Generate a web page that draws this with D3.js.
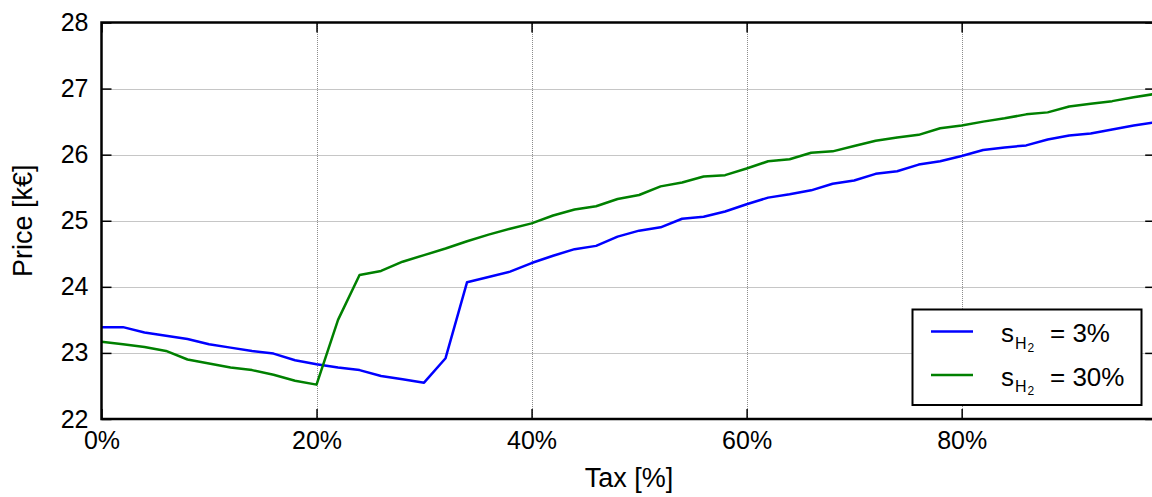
<!DOCTYPE html>
<html>
<head>
<meta charset="utf-8">
<script src="https://cdn.jsdelivr.net/npm/d3@7"></script>
<style>
  body { margin: 0; background: #fff; }
  svg { display: block; font-family: "Liberation Sans", Arial, sans-serif; }
</style>
</head>
<body>
<svg id="chart" width="1152" height="497"></svg>
<script>
// ---- data ----
const taxLevels = [0, 0.02, 0.04, 0.06, 0.08, 0.10, 0.12, 0.14, 0.16, 0.18,
  0.20, 0.22, 0.24, 0.26, 0.28, 0.30, 0.32, 0.34, 0.36, 0.38,
  0.40, 0.42, 0.44, 0.46, 0.48, 0.50, 0.52, 0.54, 0.56, 0.58,
  0.60, 0.62, 0.64, 0.66, 0.68, 0.70, 0.72, 0.74, 0.76, 0.78,
  0.80, 0.82, 0.84, 0.86, 0.88, 0.90, 0.92, 0.94, 0.96, 0.98];

const priceH2_3 = [23.39, 23.39, 23.31, 23.26, 23.21, 23.13, 23.08, 23.03, 22.99, 22.89,
  22.83, 22.78, 22.74, 22.65, 22.60, 22.55, 22.92, 24.07, 24.15, 24.23,
  24.36, 24.47, 24.57, 24.62, 24.76, 24.85, 24.90, 25.03, 25.06, 25.14,
  25.25, 25.35, 25.40, 25.46, 25.56, 25.61, 25.71, 25.75, 25.85, 25.90,
  25.98, 26.07, 26.11, 26.14, 26.23, 26.29, 26.32, 26.38, 26.44, 26.49];

const priceH2_30 = [23.17, 23.13, 23.09, 23.03, 22.90, 22.84, 22.78, 22.74, 22.67, 22.58,
  22.52, 23.50, 24.18, 24.24, 24.38, 24.48, 24.58, 24.69, 24.79, 24.88,
  24.96, 25.08, 25.17, 25.22, 25.33, 25.39, 25.52, 25.58, 25.67, 25.69,
  25.79, 25.90, 25.93, 26.03, 26.05, 26.13, 26.21, 26.26, 26.30, 26.40,
  26.44, 26.50, 26.55, 26.61, 26.64, 26.73, 26.77, 26.81, 26.87, 26.92];

const xTicks = [0, 0.2, 0.4, 0.6, 0.8];
const yTicks = [22, 23, 24, 25, 26, 27, 28];
const seriesNames = ["3%", "30%"];
const seriesColors = ["#0000ff", "#008000"];
const xLabel = "Tax [%]";
const yLabel = "Price [k€]";

// ---- layout ----
const svg = d3.select("#chart");
const margin = { left: 101.5, top: 22.5, right: 1155.2, bottom: 419 };

const x = d3.scaleLinear().domain([0, 0.98]).range([margin.left, margin.right]);
const y = d3.scaleLinear().domain([22, 28]).range([margin.bottom, margin.top]);
const px = v => Math.round(v) + 0.5;

// grid
const grid = svg.append("g").attr("stroke", "#8c8c8c").attr("stroke-width", 1)
  .attr("stroke-dasharray", "1,1");
grid.selectAll("line.v").data(xTicks.filter(d => d > 0)).join("line")
  .attr("class", "v")
  .attr("x1", d => px(x(d))).attr("x2", d => px(x(d)))
  .attr("y1", y(22)).attr("y2", y(28));
grid.selectAll("line.h").data(yTicks.filter(d => d > 22 && d < 28)).join("line")
  .attr("class", "h")
  .attr("x1", x(0)).attr("x2", x(0.98))
  .attr("y1", d => px(y(d))).attr("y2", d => px(y(d)));

// lines
const series = [priceH2_3, priceH2_30];
const line = d3.line().x((d, i) => x(taxLevels[i])).y(d => y(d));
svg.append("g").selectAll("path").data(series).join("path")
  .attr("d", d => line(d))
  .attr("fill", "none")
  .attr("stroke", (d, i) => seriesColors[i])
  .attr("stroke-width", 2.5)
  .attr("stroke-linejoin", "round");

// axes
const fmt = d3.format(".0%");
const tickFont = 25;
const xAxis = svg.append("g").attr("transform", `translate(0,${y(22)})`)
  .call(d3.axisBottom(x).tickValues(xTicks).tickFormat(fmt).tickSizeInner(-10).tickSizeOuter(0).tickPadding(12));
const xAxisTop = svg.append("g").attr("transform", `translate(0,${y(28)})`)
  .call(d3.axisTop(x).tickValues(xTicks).tickFormat("").tickSizeInner(-10).tickSizeOuter(0));
const yAxis = svg.append("g").attr("transform", `translate(${x(0)},0)`)
  .call(d3.axisLeft(y).tickValues(yTicks).tickFormat(d3.format("d")).tickSizeInner(-10).tickSizeOuter(0).tickPadding(13));
const yAxisRight = svg.append("g").attr("transform", `translate(${x(0.98)},0)`)
  .call(d3.axisRight(y).tickValues(yTicks).tickFormat("").tickSizeInner(-10).tickSizeOuter(0));

[xAxis, xAxisTop, yAxis, yAxisRight].forEach(g => {
  g.select(".domain").remove();
  g.selectAll(".tick line").attr("stroke", "#000").attr("stroke-width", 1.5);
  g.selectAll("text").attr("font-size", tickFont).attr("fill", "#000")
    .attr("font-family", "Liberation Sans, Arial, sans-serif");
});

// frame
svg.append("rect")
  .attr("x", x(0)).attr("y", y(28))
  .attr("width", x(0.98) - x(0)).attr("height", y(22) - y(28))
  .attr("fill", "none").attr("stroke", "#000").attr("stroke-width", 2.5);

// axis labels
svg.append("text").attr("x", 629).attr("y", 487)
  .attr("text-anchor", "middle").attr("font-size", 27).text(xLabel);
svg.append("text")
  .attr("transform", `translate(32,${(y(22) + y(28)) / 2}) rotate(-90)`)
  .attr("text-anchor", "middle").attr("font-size", 27).text(yLabel);

// legend
const legend = svg.append("g");
legend.append("rect").attr("x", 912.5).attr("y", 309.5).attr("width", 229).attr("height", 95.5)
  .attr("fill", "#fff").attr("stroke", "#000").attr("stroke-width", 2);
const rows = legend.selectAll("g.row").data(seriesNames).join("g")
  .attr("class", "row")
  .attr("transform", (d, i) => `translate(0,${331.5 + i * 43.5})`);
rows.append("line").attr("x1", 931).attr("x2", 973).attr("y1", 0).attr("y2", 0)
  .attr("stroke", (d, i) => seriesColors[i]).attr("stroke-width", 2.5);
const lt = rows.append("text").attr("x", 1001).attr("y", 10.5).attr("fill", "#000");
lt.append("tspan").attr("font-size", 26).text("s");
lt.append("tspan").attr("x", 1015).attr("dy", 6.5).attr("font-size", 16).text("H");
lt.append("tspan").attr("dx", 1).attr("dy", 3).attr("font-size", 12).text("2");
lt.append("tspan").attr("x", 1050).attr("dy", -9.5).attr("font-size", 26).text(d => "= " + d);
</script>
</body>
</html>
